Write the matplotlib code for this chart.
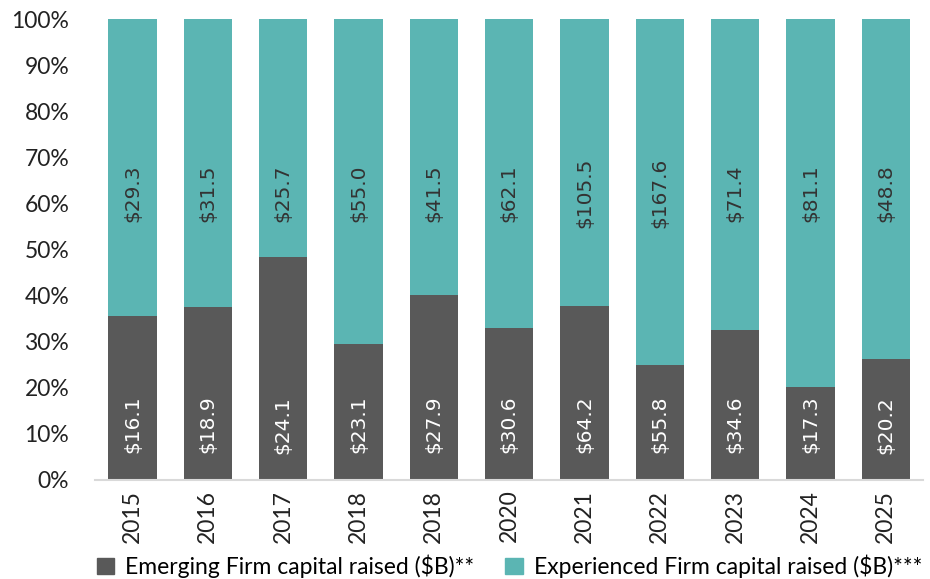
import matplotlib.pyplot as plt
import numpy as np
from matplotlib.patches import Patch

years = ["2015", "2016", "2017", "2018", "2018", "2020", "2021", "2022", "2023", "2024", "2025"]
emerging = [16.1, 18.9, 24.1, 23.1, 27.9, 30.6, 64.2, 55.8, 34.6, 17.3, 20.2]
experienced = [29.3, 31.5, 25.7, 55.0, 41.5, 62.1, 105.5, 167.6, 71.4, 81.1, 48.8]
# participacion de emerging (%)
emerging_pct = [35.5, 37.5, 48.4, 29.6, 40.2, 33.0, 37.8, 25.0, 32.6, 20.2, 26.2]

gris = "#595959"
verde = "#5bb5b3"
fuente = "Lato"

pct_em = np.array(emerging_pct)
pct_ex = 100 - pct_em
x = np.arange(len(years))

fig = plt.figure(figsize=(9.3, 5.79), dpi=100)
ax = fig.add_axes([0.102, 0.171, 0.891, 0.796])

ax.bar(x, pct_em, width=0.64, color=gris)
ax.bar(x, pct_ex, width=0.64, bottom=pct_em, color=verde)

# etiquetas de valores (posicion fija dentro de cada barra)
for i in range(len(years)):
    ax.text(x[i], 12, "$%.1f" % emerging[i], rotation=90, ha="center", va="center",
            color="white", fontsize=14.5, family="DejaVu Sans")
    ax.text(x[i], 62.3, "$%.1f" % experienced[i], rotation=90, ha="center", va="center",
            color="#333333", fontsize=14.5, family="DejaVu Sans")

ax.set_xlim(-0.5, len(years) - 0.5)
ax.set_ylim(0, 100)
ax.set_yticks(range(0, 101, 10))
ax.set_yticklabels([f"{v}%" for v in range(0, 101, 10)], fontsize=16.5, family=fuente, color="#222222")
ax.set_xticks(x)
ax.set_xticklabels(years, rotation=90, fontsize=16.5, family=fuente, color="#222222")
ax.tick_params(axis="both", length=0)
ax.tick_params(axis="y", pad=18.5)
ax.tick_params(axis="x", pad=7)

for lado in ["top", "right", "left"]:
    ax.spines[lado].set_visible(False)
ax.spines["bottom"].set_color("#d9d9d9")
ax.spines["bottom"].set_linewidth(1.5)

handles = [Patch(color=gris, label="Emerging Firm capital raised ($B)**"),
           Patch(color=verde, label="Experienced Firm capital raised ($B)***")]
fig.legend(handles=handles, loc="center", bbox_to_anchor=(0.548, 0.022), ncol=2,
           frameon=False, prop={"family": fuente, "size": 16.5}, handlelength=0.75,
           handleheight=0.75, handletextpad=0.5, columnspacing=1.35, borderpad=0)

plt.savefig("out.png", dpi=100)
